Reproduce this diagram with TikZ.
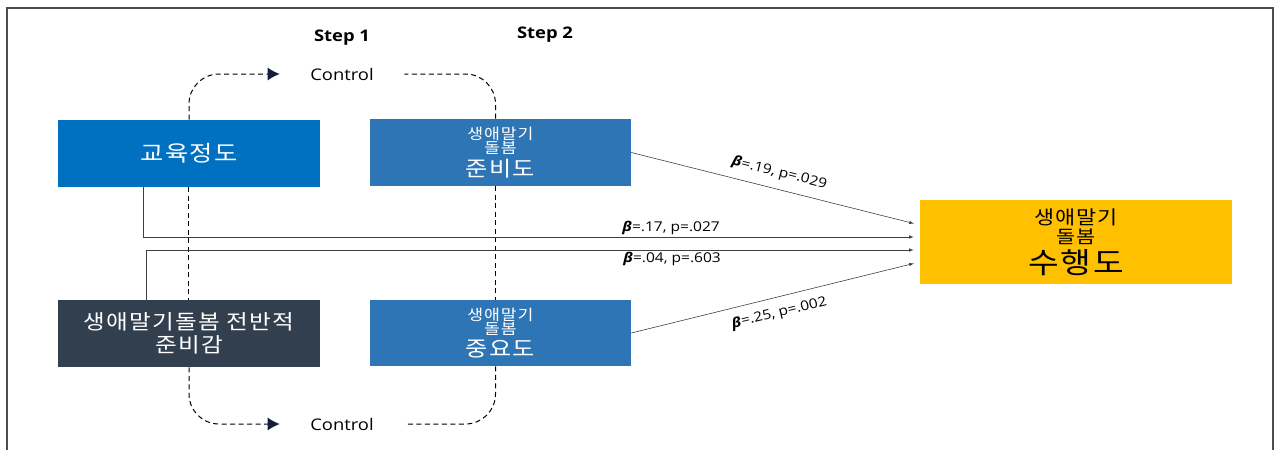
\documentclass[tikz,border=0pt]{standalone}
\usepackage{fontspec}
\setmainfont[FakeStretch=1.15]{Open Sans}
\newfontfamily\kr[FakeStretch=1.15,LetterSpace=6]{Noto Sans CJK KR}
\usetikzlibrary{arrows,arrows.meta,positioning,backgrounds}
\definecolor{eduBlue}{RGB}{0,112,192}
\definecolor{midBlue}{RGB}{46,117,182}
\definecolor{slate}{RGB}{50,63,79}
\definecolor{gold}{RGB}{255,192,0}
\definecolor{navy}{RGB}{20,30,60}
\newcommand{\fs}[1]{\fontsize{#1}{#1}\selectfont}
\newcommand{\fsz}[2]{{\fs{#1}#2}}
\newcommand{\bt}{{\bfseries\itshape β}}

\begin{document}
\begin{tikzpicture}[x=1pt,y=-1pt,>=latex,semithick]
		\tikzstyle{box}=[inner sep=0pt,align=center,text=white,font=\kr]
		\tikzstyle{ctrlnode}=[inner sep=0pt,minimum width=124pt,minimum height=16pt,font=\fs{16}]
		\tikzstyle{steplabel}=[font=\fs{16}\bfseries]
		\tikzstyle{loop}=[black,dash pattern=on 5pt off 3.5pt,line width=1pt,rounded corners=30pt]
		\tikzstyle{tip}=[-{Latex[length=12pt,width=13pt,color=navy]}]
		\tikzstyle{link}=[->,draw=black!75,line width=0.6pt,shorten >=6pt]
		\tikzstyle{coef}=[font=\fs{13.5},text=black,inner sep=2pt]

		\useasboundingbox (0,0) rectangle (1277,450);
		\draw[black!70,line width=1.2pt] (7,450) |- (1273,8) -- (1273,450);

		% boxes
		\node[box,fill=eduBlue,minimum width=262pt,minimum height=67pt] (edu) at (189,153.5) {\fsz{22}{교육정도}};
		\node[box,fill=midBlue,minimum width=261pt,minimum height=67pt] (prep) at (500.5,152.5)
			{\fsz{15}{생애말기}\\[0pt]\fsz{15}{돌봄}\\[3pt]\fsz{21}{준비도}};
		\node[box,fill=slate,minimum width=262pt,minimum height=67pt] (overall) at (189,333.5)
			{\fsz{20.5}{생애말기돌봄 전반적}\\[4pt]\fsz{20.5}{준비감}};
		\node[box,fill=midBlue,minimum width=261pt,minimum height=66pt] (imp) at (500.5,333)
			{\fsz{15}{생애말기}\\[0pt]\fsz{15}{돌봄}\\[3pt]\fsz{21}{중요도}};
		\node[box,fill=gold,text=black,minimum width=312pt,minimum height=84pt] (perf) at (1076,242)
			{\fsz{19}{생애말기}\\[2pt]\fsz{18}{돌봄}\\[4pt]\fsz{29}{수행도}};

		% control
		\node[ctrlnode] (ctrlA) at (342,74) {Control};
		\node[ctrlnode] (ctrlB) at (342,424) {Control};
		\node[steplabel] (s1) [above=17pt of ctrlA] {Step 1};
		\node[steplabel] (s2) at (545,35) {Step 2};

		\begin{scope}[on background layer]
		\draw[loop,tip] (edu.north) |- (ctrlA.west);
		\draw[loop] ([xshift=-1pt]edu.south) -- ([xshift=-1pt]overall.north);
		\draw[loop,tip] (overall.south) |- (ctrlB.west);
		\draw[loop] ([xshift=-5pt]prep.north) |- (ctrlA.east);
		\draw[loop] ([xshift=-5pt]prep.south) -- ([xshift=-5pt]imp.north);
		\draw[loop] ([xshift=-5pt]imp.south) |- (ctrlB.east);
		\end{scope}

		% paths
		\path
		(prep.east) edge [link] node [coef,sloped,above=7pt] {\bt=.19, p=.029} ([yshift=17pt]perf.west)
		(imp.east) edge [link] node [coef,sloped,below=7pt] {\bt=.25, p=.002} ([yshift=-20pt]perf.west);
		\draw[link] ([xshift=-46pt]edu.south) |- node [coef,pos=0.84,above] {\bt=.17, p=.027} ([yshift=5pt]perf.west);
		\draw[link] ([xshift=-43pt]overall.north) |- node [coef,pos=0.84,below] {\bt=.04, p=.603} ([yshift=-8pt]perf.west);
	\end{tikzpicture}
\end{document}
